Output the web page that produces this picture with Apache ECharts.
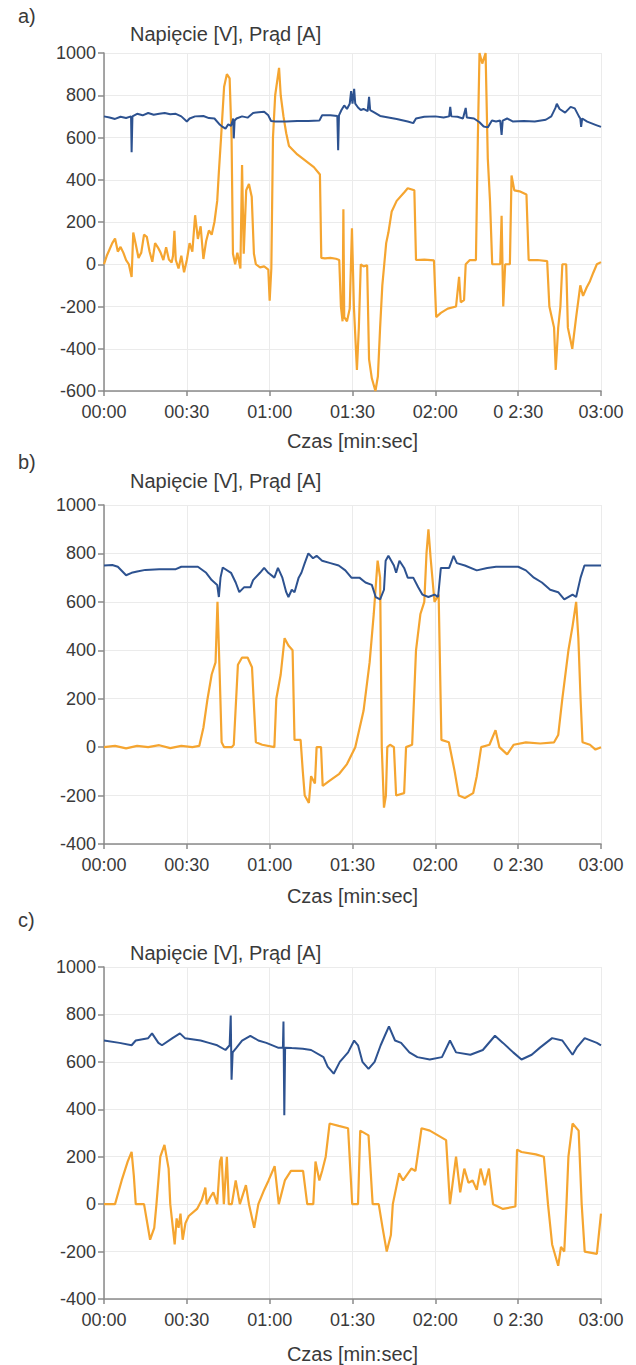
<!DOCTYPE html>
<html>
<head>
<meta charset="utf-8">
<script src="https://cdn.jsdelivr.net/npm/echarts@6/dist/echarts.min.js"></script>
<style>
  html, body { margin: 0; padding: 0; background: #fff; }
  #chart { width: 636px; height: 1365px; }
</style>
</head>
<body>
<div id="chart"></div>
<script>
// Time axis: seconds 0..180, tick labels as printed
const timeTicks = ['00:00', '00:30', '01:00', '01:30', '02:00', '0 2:30', '03:00'];
const panelLetters = ['a)', 'b)', 'c)'];
const yTitle = 'Napięcie [V], Prąd [A]';
const xTitle = 'Czas [min:sec]';
const yMin = [-600, -400, -400];
const yMax = [1000, 1000, 1000];

// Panel a) — voltage [V], [time s, value]
const voltageA = [
  [0,700],[2,695],[4,688],[6,698],[8,692],[9.8,700],[10,530],[10.3,700],[12,712],[14,705],[16,716],[18,708],
  [20,712],[22,716],[24,710],[26,712],[28,700],[30,676],[31,690],[33,700],[36,702],[38,692],[40,690],
  [42,660],[43,650],[44,642],[45,662],[46,655],[46.8,690],[47,596],[47.3,680],[48,690],[50,700],[52,694],
  [54,716],[56,720],[58,722],[59.5,705],[60.5,678],[62,676],[66,676],[70,678],[74,678],[78,680],
  [79,705],[82,705],[84.5,702],[84.8,540],[85.1,705],[86,730],[87,752],[88,735],[89,760],[89.5,820],
  [90,760],[90.6,830],[91,760],[92,742],[93,730],[94,735],[95.5,725],[96,792],[96.4,730],[98,718],
  [100,702],[103,695],[106,688],[110,676],[112,668],[113,690],[116,698],[120,700],[123,695],[125,700],
  [125.4,745],[125.8,700],[128,698],[130,690],[131,740],[131.4,695],[134,690],[136,672],[137.5,652],
  [139,648],[140.5,680],[142,676],[143.5,680],[144,612],[144.4,680],[146,690],[148,676],[152,678],
  [156,676],[160,684],[162,700],[163.5,740],[164,760],[165,735],[167,718],[169,745],[170.5,738],
  [172,700],[172.5,690],[172.8,650],[173.2,690],[175,675],[178,660],[180,650]
];
// Panel a) — current [A]
const currentA = [
  [0,0],[1,40],[2,70],[3,100],[4,122],[5,60],[6,82],[7,55],[8,20],[9,0],[10,-60],[10.6,150],[11.5,95],
  [12.5,30],[13.5,55],[14.5,140],[15.5,130],[16.5,60],[17.5,12],[18.5,100],[19.5,80],[20.5,55],[21.5,20],
  [22.5,80],[23.5,22],[24.5,8],[25,40],[25.5,158],[26,20],[27,-20],[28,40],[29,-38],[30,20],[31,100],
  [32,60],[33,232],[34,120],[35,180],[36,25],[37,110],[38,160],[39,140],[40,200],[41,300],[41.6,436],
  [42.4,600],[43.5,840],[44.5,900],[45.5,880],[46.2,600],[46.7,50],[47.5,0],[48.3,55],[49.4,-20],
  [50,470],[50.6,50],[51.5,350],[52.5,380],[53.5,320],[54.3,50],[55,0],[56.5,-15],[58,-10],[59.5,-25],
  [60,-172],[60.6,-20],[61.2,600],[62,800],[63.4,930],[64,800],[65,700],[66,620],[67,560],[68.5,540],
  [70,520],[72,500],[74,480],[76,460],[78.2,425],[78.7,30],[80,28],[82,30],[84,26],[85.2,20],[85.8,-200],
  [86.4,-270],[86.7,260],[87,-250],[88,-270],[89,-210],[89.8,170],[90.5,-200],[91.6,-500],[92.3,-300],
  [93,0],[94,-10],[95.3,-5],[96,-450],[97,-540],[98.3,-600],[99.2,-530],[100,-300],[100.8,-100],
  [101.5,0],[102.2,100],[103,150],[104.2,250],[106,300],[108.7,340],[110,360],[112.4,350],[113,20],
  [116,22],[119.5,18],[120.3,-250],[122,-230],[124.5,-210],[127.5,-200],[128.6,-60],[129.2,-180],
  [130.4,-170],[131,0],[132.5,20],[134.7,20],[135.4,600],[136,1000],[137,950],[138.2,1000],[139,500],
  [139.8,300],[140.6,0],[143.5,0],[144,230],[144.6,-200],[145.3,0],[147,0],[147.6,420],[148.6,350],
  [150.5,345],[153,330],[153.8,20],[157,20],[160.5,15],[161.3,-200],[163,-300],[163.6,-500],[164.5,-300],
  [165.3,-200],[166,0],[167.4,0],[168,-300],[169.6,-400],[171,-250],[172.5,-100],[173.5,-150],
  [174.8,-110],[176,-80],[177.2,-40],[178.5,0],[180,10]
];
// Panel b) — voltage [V]
const voltageB = [
  [0,750],[3,752],[5,745],[8,710],[10,720],[12,725],[15,732],[20,735],[26,735],[28,745],[34,745],
  [37,720],[39,690],[41,670],[41.6,620],[42.2,700],[43,742],[46,720],[47.7,680],[49,640],[50.7,660],
  [53,660],[54,690],[56.5,720],[58,740],[59.5,720],[61.7,700],[63,740],[64.6,700],[66,640],[66.8,620],
  [68,650],[69,640],[70.5,700],[71.5,720],[72.7,760],[74,800],[75.7,780],[77,790],[79,770],[82,760],
  [85,750],[87.4,730],[89.6,700],[92.5,700],[94.7,680],[97,670],[98.4,620],[100,610],[101.4,650],
  [102,770],[103,790],[105,750],[105.8,720],[107,770],[108.7,740],[110,700],[112,700],[113.8,660],
  [115.3,630],[117.5,620],[119.7,630],[121,620],[122,740],[125,740],[126.6,790],[127.8,760],[130.7,750],
  [135,730],[138.8,740],[142,745],[150,745],[152.8,730],[155.7,700],[158.6,680],[161.6,650],[164.5,640],
  [166.7,610],[169.7,630],[171,620],[172.6,700],[174,750],[180,750]
];
// Panel b) — current [A]
const currentB = [
  [0,0],[4,5],[8,-5],[12,5],[16,0],[20,8],[24,-4],[28,5],[32,0],[34.5,5],[36,80],[37.5,200],[39,300],
  [40.4,350],[41.1,600],[41.9,300],[42.6,20],[43.5,0],[46.3,0],[47,10],[48.5,340],[50,370],[52,370],
  [53.6,330],[54.4,150],[55,20],[57.3,10],[61.7,0],[62.4,200],[64,300],[65.4,450],[66.8,420],[68.3,400],
  [69,30],[71.2,30],[72,-100],[72.7,-200],[74.2,-230],[75,-120],[76.4,-150],[77,0],[78.6,0],[79.2,-160],
  [81.5,-140],[85.2,-110],[88,-70],[91,0],[94,150],[96.2,350],[97.7,550],[99.1,770],[100,700],[100.6,0],
  [101.4,-250],[102.1,-200],[102.6,0],[103.6,10],[105,0],[105.8,-200],[108.7,-190],[109.4,0],[111.6,10],
  [113,400],[114.6,550],[116,600],[116.8,800],[117.5,900],[118.3,780],[119.7,600],[121.2,630],[122.2,30],
  [124.9,20],[127,-100],[128.5,-200],[130.7,-210],[133.7,-190],[135,-120],[136.6,0],[139.6,10],[141.8,70],
  [143.2,0],[146,-30],[148.4,10],[152.8,20],[158,15],[163,20],[164.5,50],[166,200],[168.2,400],[169.7,500],
  [171,600],[171.8,450],[172.6,200],[173.3,20],[176,10],[178,-10],[180,0]
];
// Panel c) — voltage [V]
const voltageC = [
  [0,690],[5.6,680],[10,670],[11.5,690],[16,700],[17.4,720],[19.7,680],[21,670],[24.8,700],[27.5,720],
  [29.3,700],[35,690],[38,680],[41,670],[44,650],[45.5,670],[45.9,795],[46.2,525],[46.6,640],[48,660],
  [50,690],[53,710],[55.9,690],[58.8,680],[63,660],[64.8,660],[65,770],[65.3,375],[65.6,660],[68,658],
  [72,655],[75,650],[79.5,620],[81,580],[83.2,550],[85.4,600],[88.4,640],[90.6,690],[92,670],[93.6,600],
  [95.8,570],[98,600],[100.2,670],[101.7,710],[103.2,750],[105.4,690],[107.6,680],[110.6,640],[113.5,620],
  [118,610],[122.4,620],[125.3,690],[127.5,640],[132.7,630],[137.2,650],[141.6,710],[144.5,680],
  [148.2,640],[151.2,610],[154.9,630],[157.9,660],[162.3,700],[166,690],[169.7,630],[171.2,660],
  [174.1,700],[178.5,680],[180,670]
];
// Panel c) — current [A]
const currentC = [
  [0,0],[4,0],[6.4,100],[8.6,180],[10,220],[10.8,120],[11.5,0],[14.5,0],[16.7,-150],[18.2,-100],[19,0],
  [20.4,200],[21.9,250],[23.4,150],[24,0],[25.6,-170],[26.3,-60],[27,-100],[27.7,-40],[28.5,-150],
  [29.5,-80],[30.7,-50],[33.7,-20],[35.5,20],[36.7,70],[37.2,0],[38.5,30],[39.6,50],[41,0],[42,180],
  [42.6,200],[43.4,0],[44.5,200],[45.2,0],[46.3,0],[47.7,100],[49.2,0],[51.4,80],[52.5,0],[54.4,-100],
  [55.9,0],[58,60],[59.6,100],[61.8,160],[63.3,0],[65.5,100],[67.7,140],[72.1,140],[73.6,0],[75.8,0],
  [76.6,180],[78,100],[79,140],[80.3,200],[81.7,340],[85,330],[88.4,320],[89.9,0],[92,0],[92.8,310],
  [95.8,290],[97.3,0],[99.5,0],[100.9,-100],[102.4,-200],[103.9,-130],[104.6,0],[106.9,130],[108.3,100],
  [111.3,150],[112.8,140],[115,320],[118,310],[123.9,270],[125.3,0],[127.5,200],[129,50],[130.5,150],
  [132,90],[133.5,100],[135,60],[136.4,150],[137.9,80],[139.4,150],[140.9,0],[144.5,-20],[149,-10],
  [149.6,230],[151.2,220],[156.4,210],[159.3,200],[160.8,0],[162.3,-170],[164.5,-260],[165.5,-180],
  [166.7,-200],[167.5,0],[168.2,200],[169.7,340],[171.9,310],[173,0],[174.1,-200],[178.5,-210],[180,-40]
];

const voltages = [voltageA, voltageB, voltageC];
const currents = [currentA, currentB, currentC];

// Plot-area placement of the three stacked panels
const panelTop = [53, 505, 967];
const panelHeight = [338, 339, 338];
const letterY = [17, 463, 921];
const titleY = [35, 482, 954];
const xNameGap = [40, 42, 45];

const textColor = '#3a3a3a';
const fontFamily = 'Liberation Sans, Arial, sans-serif';
const axisColor = '#8a8a8a';
const gridColor = '#ebebeb';
const orange = '#f5a530';
const blue = '#2d5290';

const grids = [], xAxes = [], yAxes = [], series = [], graphics = [];
for (let i = 0; i < 3; i++) {
  grids.push({ left: 104, right: 35, top: panelTop[i], height: panelHeight[i] });
  xAxes.push({
    type: 'value', gridIndex: i, min: 0, max: 180, interval: 30,
    name: xTitle, nameLocation: 'middle', nameGap: xNameGap[i],
    nameTextStyle: { color: textColor, fontSize: 20, fontFamily },
    axisLine: { onZero: false, lineStyle: { color: axisColor, width: 1.5 } },
    axisTick: { length: 5, lineStyle: { color: axisColor, width: 1.5 } },
    axisLabel: {
      color: textColor, fontSize: 18, fontFamily, margin: 12,
      formatter: v => timeTicks[Math.round(v / 30)]
    },
    splitLine: { show: true, lineStyle: { color: gridColor, width: 1 } }
  });
  yAxes.push({
    type: 'value', gridIndex: i, min: yMin[i], max: yMax[i], interval: 200,
    axisLine: { show: true, onZero: false, lineStyle: { color: axisColor, width: 1.5 } },
    axisTick: { show: true, length: 6, lineStyle: { color: axisColor, width: 1.5 } },
    axisLabel: { color: textColor, fontSize: 18, fontFamily, margin: 8, formatter: v => String(v) },
    splitLine: { show: true, lineStyle: { color: gridColor, width: 1 } }
  });
  series.push({
    type: 'line', xAxisIndex: i, yAxisIndex: i, data: currents[i],
    showSymbol: false, lineStyle: { color: orange, width: 2.2 }, z: 2, animation: false
  });
  series.push({
    type: 'line', xAxisIndex: i, yAxisIndex: i, data: voltages[i],
    showSymbol: false, lineStyle: { color: blue, width: 2 }, z: 3, animation: false
  });
  graphics.push({
    type: 'text', left: 18, top: letterY[i] - 11,
    style: { text: panelLetters[i], fill: textColor, font: '20px ' + fontFamily }
  });
  graphics.push({
    type: 'text', left: 130, top: titleY[i] - 11,
    style: { text: yTitle, fill: textColor, font: '20px ' + fontFamily }
  });
}

const chart = echarts.init(document.getElementById('chart'), null, { renderer: 'svg' });
chart.setOption({
  animation: false,
  backgroundColor: '#fff',
  grid: grids,
  xAxis: xAxes,
  yAxis: yAxes,
  series: series,
  graphic: graphics
});
</script>
</body>
</html>
